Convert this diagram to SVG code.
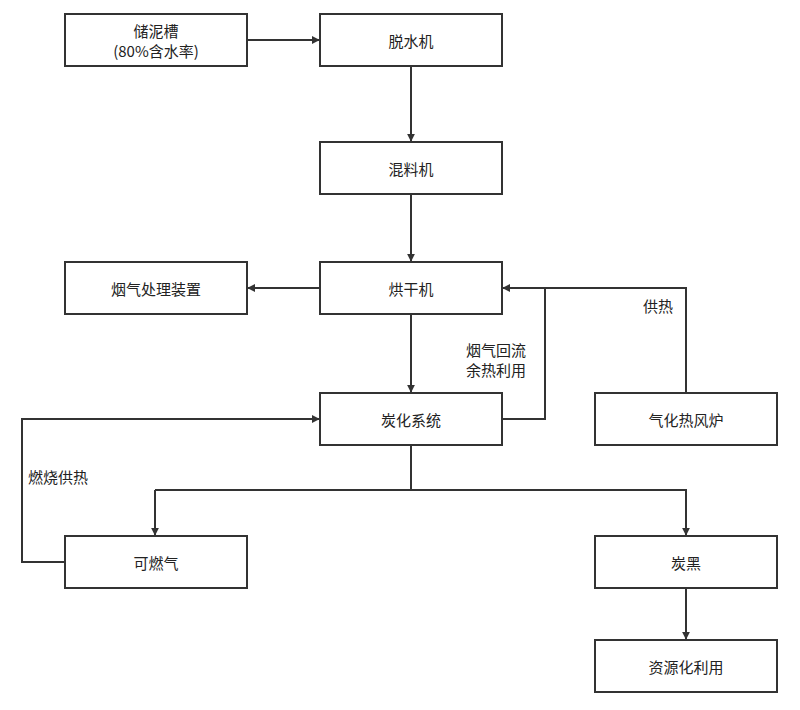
<svg xmlns="http://www.w3.org/2000/svg" width="800" height="710" viewBox="0 0 800 710">
<style>
.b{fill:#fff;stroke:#333;stroke-width:2}
.t{font-family:"Noto Sans CJK SC","Noto Sans",sans-serif;font-size:15px;fill:#222;text-anchor:middle;dominant-baseline:central}
.l{font-family:"Noto Sans CJK SC","Noto Sans",sans-serif;font-size:15px;fill:#222}
.c{fill:none;stroke:#333;stroke-width:2;marker-end:url(#a)}
.n{fill:none;stroke:#333;stroke-width:2}
</style>
<defs><marker id="a" viewBox="0 0 10 10" refX="9" refY="5" markerWidth="8" markerHeight="8" markerUnits="userSpaceOnUse" orient="auto"><path d="M0,0L10,5L0,10z" fill="#333"/></marker></defs>
<rect width="800" height="710" fill="#fff"/>
<g id="connectors">
<path class="c" d="M247,40H319"/>
<path class="c" d="M411,66V141"/>
<path class="c" d="M411,194V261"/>
<path class="c" d="M320,288H248"/>
<path class="c" d="M411,314V392"/>
<path class="c" d="M502,419H545V288H503"/>
<path class="n" d="M686,393V288H545"/>
<path class="c" d="M65,562H22V419H319"/>
<path class="n" d="M411,445V490"/>
<path class="c" d="M155,490V535"/>
<path class="c" d="M155,490H686V535"/>
<path class="c" d="M686,588V639"/>
<text class="l" x="466" y="356">烟气回流</text>
<text class="l" x="466" y="376">余热利用</text>
<text class="l" x="643" y="312">供热</text>
<text class="l" x="28" y="483">燃烧供热</text>
</g>
<g id="n1"><rect class="b" x="65" y="14" width="182" height="52"/><text class="t" x="156" y="30">储泥槽</text><text class="t" x="156" y="50">(80%含水率)</text></g>
<g id="n2"><rect class="b" x="320" y="14" width="182" height="52"/><text class="t" x="411" y="40">脱水机</text></g>
<g id="n3"><rect class="b" x="320" y="142" width="182" height="52"/><text class="t" x="411" y="168">混料机</text></g>
<g id="n4"><rect class="b" x="320" y="262" width="182" height="52"/><text class="t" x="411" y="288">烘干机</text></g>
<g id="n5"><rect class="b" x="65" y="262" width="182" height="52"/><text class="t" x="156" y="288">烟气处理装置</text></g>
<g id="n6"><rect class="b" x="320" y="393" width="182" height="52"/><text class="t" x="411" y="419">炭化系统</text></g>
<g id="n7"><rect class="b" x="595" y="393" width="182" height="52"/><text class="t" x="686" y="419">气化热风炉</text></g>
<g id="n8"><rect class="b" x="65" y="536" width="182" height="52"/><text class="t" x="156" y="562">可燃气</text></g>
<g id="n9"><rect class="b" x="595" y="536" width="182" height="52"/><text class="t" x="686" y="562">炭黑</text></g>
<g id="n10"><rect class="b" x="595" y="640" width="182" height="52"/><text class="t" x="686" y="666">资源化利用</text></g>
</svg>
